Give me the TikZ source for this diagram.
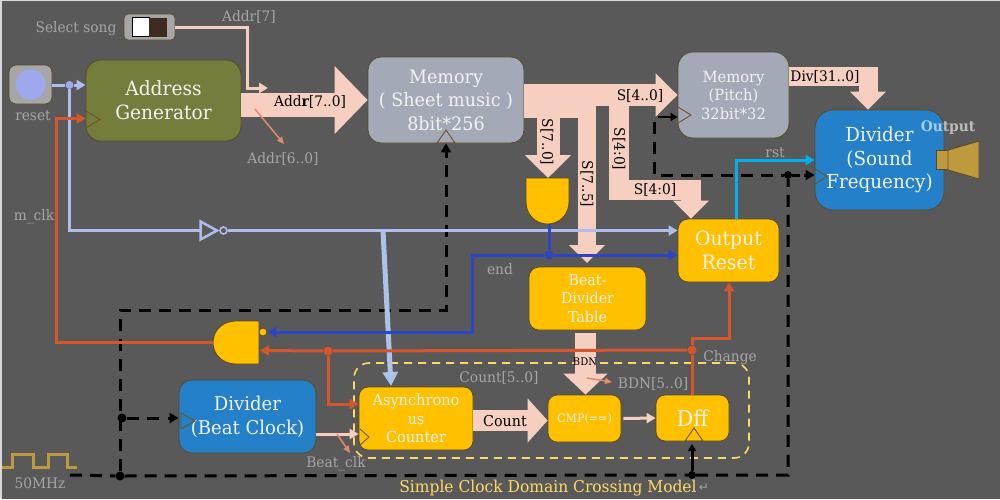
\documentclass[tikz,border=0pt]{standalone}
\usepackage{fontspec}
\setmainfont{DejaVu Serif}[FakeStretch=0.95]
\newfontfamily\symfont{DejaVu Sans}
\usetikzlibrary{arrows.meta}
\definecolor{bggray}{HTML}{595959}
\definecolor{edgebrown}{HTML}{5A4A28}
\definecolor{olivebox}{HTML}{757D3C}
\definecolor{membox}{HTML}{A3A9B6}
\definecolor{bluebox}{HTML}{2480C8}
\definecolor{goldbox}{HTML}{FFC000}
\definecolor{peach}{HTML}{F6CFC0}
\definecolor{coral}{HTML}{E98A66}
\definecolor{paleblue}{HTML}{B0BCEB}
\definecolor{skyline}{HTML}{A9C4E8}
\definecolor{rustline}{HTML}{D5562A}
\definecolor{endblue}{HTML}{2A46C4}
\definecolor{cyanline}{HTML}{00B0F0}
\definecolor{labelgray}{HTML}{A6A6A6}
\definecolor{softyellow}{HTML}{FFD966}
\definecolor{speakergold}{HTML}{BE9A3E}
\definecolor{swbrown}{HTML}{402B20}
\tikzset{
  blockbox/.style={draw=edgebrown,line width=0.8pt,rounded corners=#1,align=center,inner sep=0pt,text=white!95!black},
  blockbox/.default=10pt,
  lbl/.style={text=labelgray,font=\fontsize{14.5}{16}\selectfont,inner sep=0pt,yshift=-1.5pt},
  blacklbl/.style={text=black,font=\fontsize{14.5}{16}\selectfont,inner sep=0pt},
  fatbus/.style={draw=peach,line width=#1,line join=miter},
  thinwire/.style={line width=3pt,-{Triangle[length=9pt,width=10pt]}},
  clkwire/.style={draw=black,line width=3pt,dash pattern=on 12pt off 8pt},
  clkhead/.style={black,line width=3pt,-{Triangle[length=9pt,width=10pt]}},
  dotnode/.style={circle,fill=#1,minimum size=9pt,inner sep=0pt},
  clktri/.style={draw=#1,line width=0.9pt,line join=miter},
  clktri/.default=edgebrown!90!goldbox,
  gatebody/.style={draw=edgebrown,line width=0.8pt,fill=goldbox},
}
\begin{document}
\begin{tikzpicture}[x=1pt,y=-1pt]
\fill[white!85!black] (0,0) rectangle (1000,499);
\fill[bggray] (2,1) rectangle (1000,499);
\useasboundingbox (0,0) rectangle (1000,499);
% blocks
\node[blockbox=4pt,fill=labelgray,minimum width=51pt,minimum height=26pt] (sw) at (149.5,27) {};
\node[draw=black,line width=0.6pt,fill=white,minimum width=17pt,minimum height=19pt,inner sep=0pt] (swon) at (140.5,27) {};
\node[fill=swbrown,minimum width=18pt,minimum height=19pt,inner sep=0pt] (swoff) at (158,27) {};
\node[blockbox=7pt,fill=labelgray,minimum width=43pt,minimum height=39pt] (rstbox) at (30.5,84.5) {};
\node[circle,fill=paleblue!90!blue,minimum size=30pt,inner sep=0pt] (rstbtn) at (30.5,84.5) {};
\node[blockbox=15pt,fill=olivebox,minimum width=155pt,minimum height=81pt,font=\fontsize{19.6}{24}\selectfont] (addrgen) at (163.5,100.5) {Address\\Generator};
\node[blockbox=13pt,fill=membox,minimum width=156pt,minimum height=86pt,font=\fontsize{18.5}{23.5}\selectfont] (sheet) at (446,100) {Memory\\( Sheet music )\\8bit*256};
\node[blockbox=15pt,fill=membox,minimum width=111pt,minimum height=86pt,font=\fontsize{15.5}{18.5}\selectfont] (pitch) at (733.5,95) {Memory\\(Pitch)\\32bit*32};
\node[blockbox=18pt,fill=bluebox,minimum width=129pt,minimum height=100pt,font=\fontsize{19.3}{23.5}\selectfont] (sound) at (879.5,160) {Divider\\(Sound\\Frequency)};
\node[blockbox=10pt,fill=goldbox,minimum width=101pt,minimum height=63pt,font=\fontsize{19.8}{24}\selectfont] (outrst) at (728.5,250.5) {Output\\Reset};
\node[blockbox=10pt,fill=goldbox,minimum width=117pt,minimum height=63pt,font=\fontsize{15}{18.5}\selectfont] (beattab) at (587.5,298.5) {Beat-\\Divider\\Table};
\node[blockbox=13pt,fill=bluebox,minimum width=137pt,minimum height=73pt,font=\fontsize{19}{24}\selectfont] (beatdiv) at (247.5,416.5) {Divider\\(Beat Clock)};
\node[blockbox=9pt,fill=goldbox,minimum width=114pt,minimum height=63pt,font=\fontsize{15.3}{18.5}\selectfont] (counter) at (416,418.5) {Asynchrono\\us\\Counter};
\node[blockbox=9pt,fill=goldbox,minimum width=73pt,minimum height=47pt,font=\fontsize{11.7}{13}\selectfont] (cmp) at (584.5,418.5) {CMP(==)};
\node[blockbox=9pt,fill=goldbox,minimum width=73pt,minimum height=46pt,font=\fontsize{22}{24}\selectfont] (dff) at (692.5,418) {Dff};
\node[draw=softyellow,line width=1.6pt,dash pattern=on 8pt off 6pt,rounded corners=15pt,minimum width=395pt,minimum height=95pt,inner sep=0pt] (cdcbox) at (551.5,410.5) {};
% gates
\draw[gatebody] (526,178) -- (569,178) -- (569,202) .. controls (569,214) and (560,224) .. (547.5,224) .. controls (535,224) and (526,214) .. (526,202) -- cycle;
\draw[gatebody] (259,321) -- (259,364) -- (236,364) .. controls (223,364) and (213,355) .. (213,342.5) .. controls (213,330) and (223,321) .. (236,321) -- cycle;
\node[circle,draw=edgebrown,line width=0.8pt,fill=goldbox,minimum size=8pt,inner sep=0pt] (bubble) at (263,332) {};
\coordinate (gateout) at (213,342);
\coordinate (gatein) at (549,224);
% clock triangles
\draw[clktri] (86,111) -- (100,119.5) -- (86,128);
\draw[clktri] (437,143) -- (446,130) -- (455,143) -- cycle;
\draw[clktri] (678,107) -- (691,115) -- (678,123);
\draw[clktri] (815,169) -- (827,176.5) -- (815,184);
\draw[clktri] (181,413) -- (195,421) -- (181,429) -- cycle;
\draw[clktri] (360,429) -- (369,437) -- (360,445);
\draw[clktri] (685,441) -- (694,428) -- (703,441) -- cycle;
% speaker and clock wave
\draw[draw=edgebrown,line width=0.9pt,fill=speakergold] (936,150) rectangle (948,169);
\draw[draw=edgebrown,line width=0.9pt,fill=speakergold] (948,150) -- (979,141) -- (979,179) -- (948,170) -- cycle;
\draw[speakergold,line width=3pt] (2,467) -- (12,467) -- (12,454) -- (33,454) -- (33,467) -- (48,467) -- (48,454) -- (67,454) -- (67,467) -- (77,467);
% junctions
\coordinate (clkstart) at (70,475);
\coordinate (clkend) at (788,475);
\node[dotnode=black] (jbot) at (120,476) {};
\node[dotnode=black] (jbeat) at (122,418) {};
\node[dotnode=black,minimum size=8pt] (jdff) at (692,475) {};
\node[dotnode=black,minimum size=8pt] (jsound) at (788,175) {};
\node[dotnode=paleblue!90!blue,minimum size=8pt] (jrst) at (69.5,85) {};
\node[dotnode=endblue] (jend) at (549,255) {};
\node[dotnode=rustline] (jgate) at (328,351) {};
\node[dotnode=rustline] (jchange) at (692,350) {};
% clock wires
\draw[clkwire] (clkstart) -- (jbot) -- (jdff) -- (clkend) -- (jsound);
\draw[clkwire] (jbot) -- (120,310) -- (446,310) -- (446,156);
\draw[clkhead] (446,158) -- (sheet.south);
\draw[clkwire] (jbeat) -- (165,418);
\draw[clkhead] (168,418) -- (beatdiv.west |- jbeat);
\draw[black,line width=3pt,-{Triangle[length=7pt,width=8pt]}] (jdff) -- (692,444);
\draw[clkwire] (654,122) -- (654,175) -- (jsound) -- (800,175);
\draw[clkhead] (804,175) -- (sound.west |- jsound);
\draw[black,line width=2pt,-{Triangle[length=7pt,width=8pt]}] (658,117) -- (pitch.west |- 0,117);
% fat buses
\draw[fatbus=24pt] (addrgen.east |- 0,105) -- (338,105);
\draw[fatbus=24pt,-{Triangle[length=33pt,width=66pt]}] (335,100) -- (sheet.west |- 0,100);
\draw[fatbus=34pt] (sheet.east |- 0,101) -- (596,101);
\draw[fatbus=22pt,-{Triangle[length=22pt,width=42pt]}] (596,95) -- (pitch.west |- 0,95);
\draw[fatbus=23pt,-{Triangle[length=23pt,width=45pt]}] (548,110) -- (548,178);
\draw[fatbus=18pt,-{Triangle[length=18pt,width=35pt]}] (587,110) -- (587,263);
\draw[fatbus=20pt,-{Triangle[length=18pt,width=35pt]}] (619,100) -- (619,189.5) -- (691,189.5) -- (outrst.north -| 691,0);
\draw[fatbus=19pt,-{Triangle[length=18pt,width=35pt]}] (pitch.east |- 0,76.5) -- (868,76.5) -- (sound.north -| 868,0);
\draw[fatbus=21pt,-{Triangle[length=21pt,width=43pt]}] (585.5,333) -- (cmp.north -| 585.5,0);
\draw[fatbus=21pt,-{Triangle[length=20pt,width=43pt]}] (counter.east |- 0,420.5) -- (cmp.west |- 0,420.5);
% thin wires
\draw[peach,thinwire] (sw.east) -- (247,27) -- (247,88) -- (268,88);
\draw[coral,line width=1.5pt,-{Triangle[length=7pt,width=6pt]}] (255,109) -- (284,144);
\draw[paleblue,line width=3pt] (rstbox.east |- jrst) -- (jrst);
\draw[paleblue,thinwire] (jrst) -- (addrgen.west |- jrst);
\draw[paleblue,line width=3pt] (jrst) -- (69.5,230.5) -- (200,230.5);
\draw[paleblue,line width=2.5pt,line join=miter] (200.5,221.5) -- (217,230.5) -- (200.5,239.5) -- cycle;
\node[circle,draw=paleblue,line width=1.6pt,minimum size=7pt,inner sep=0pt] (inv) at (223.5,230.5) {};
\draw[paleblue,thinwire] (inv.east) -- (outrst.west |- inv.east);
\draw[skyline,line width=5pt,-{Triangle[length=14pt,width=15pt]}] (383,230.5) -- (391,386);
\draw[rustline,thinwire] (gateout) -- (56,342) -- (56,118.5) -- (addrgen.west |- 0,118.5);
\draw[rustline,thinwire] (jchange) -- (jgate) -- (260,350.5);
\draw[rustline,thinwire] (jgate) -- (328,404) -- (counter.west |- 0,404);
\draw[rustline,thinwire] (dff.north -| jchange) -- (jchange) -- (692,338) -- (729,338) -- (outrst.south -| 729,0);
\draw[endblue,line width=3pt] (gatein) -- (jend);
\draw[endblue,thinwire] (jend) -- (outrst.west |- jend);
\draw[endblue,thinwire] (jend) -- (472,255) -- (472,332) -- (bubble.east);
\draw[cyanline,thinwire] (outrst.north -| 736,0) -- (736,160) -- (sound.west |- 0,160);
\draw[peach,thinwire] (beatdiv.east |- 0,434) -- (counter.west |- 0,434);
\draw[coral,line width=1.5pt,-{Triangle[length=7pt,width=6pt]}] (337,434) -- (350,453);
\draw[coral,line width=1.5pt,-{Triangle[length=7pt,width=6pt]}] (587,378) -- (612,382);
\draw[peach,thinwire] (cmp.east) ++(2,0) -- (dff.west);
% labels
\node[lbl] (selectlbl) at (76,27) {Select song};
\node[lbl] (addr7lbl) at (249,15) {Addr[7]};
\node[lbl] (resetlbl) at (33,114) {reset};
\node[lbl] (addr60lbl) at (283,157) {Addr[6..0]};
\node[lbl] (mclklbl) at (34,215) {m\_clk};
\node[blacklbl] (addrbuslbl) at (310,102) {Add{\bfseries r}[7..0]};
\node[blacklbl] (s40lbl) at (640,96) {S[4..0]};
\node[blacklbl,rotate=-90] (s70lbl) at (547,142) {S[7..0]};
\node[blacklbl,rotate=-90] (s75lbl) at (587,184) {S[7..5]};
\node[blacklbl,rotate=-90] (s4vlbl) at (619,149) {S[4:0]};
\node[blacklbl] (s4hlbl) at (655,190) {S[4:0]};
\node[blacklbl] (divlbl) at (825,77) {Div[31..0]};
\node[lbl] (rstlbl) at (775,151) {rst};
\node[lbl,text=white,text opacity=0.6,font=\fontsize{14.5}{16}\selectfont\bfseries] (outputlbl) at (948,126) {Output};
\node[lbl] (endlbl) at (500,268) {end};
\node[blacklbl,font=\fontsize{10.5}{12}\selectfont] (bdnlbl) at (585,362) {BDN};
\node[lbl] (bdn50lbl) at (653,382) {BDN[5..0]};
\node[lbl] (countidxlbl) at (499,376) {Count[5..0]};
\node[lbl] (changelbl) at (730,356) {Change};
\node[blacklbl,font=\fontsize{15}{17}\selectfont] (countlbl) at (505,421) {Count};
\node[lbl] (beatlbl) at (336,462) {Beat\_clk};
\node[lbl] (mhzlbl) at (40,482) {50MHz};
\node[text=softyellow,font=\fontsize{16.3}{18}\selectfont,inner sep=0pt] (titlelbl) at (548,488.5) {Simple Clock Domain Crossing Model};
\node[text=labelgray,font=\symfont\fontsize{12}{14}\selectfont,inner sep=0pt] (retlbl) at (704,488) {↵};
\end{tikzpicture}
\end{document}
